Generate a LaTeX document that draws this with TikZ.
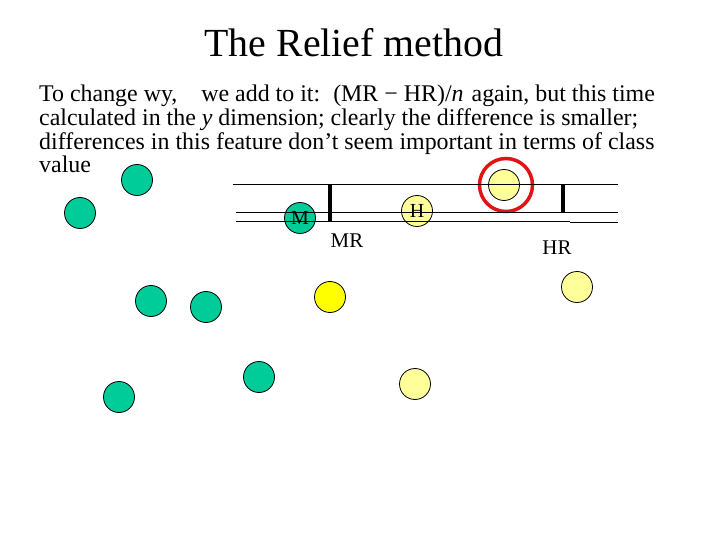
\documentclass[tikz,border=0pt]{standalone}
\usepackage{fontspec}
\setmainfont{Liberation Serif}
\definecolor{ballgreen}{RGB}{0,204,153}
\definecolor{ballyellow}{RGB}{255,255,0}
\definecolor{balllight}{RGB}{255,255,153}
\definecolor{ringred}{RGB}{225,20,20}
\tikzset{
  ball/.style={circle, draw=black, line width=0.8bp, minimum size=31bp, inner sep=0pt, font=\fontsize{20}{20}\selectfont},
  gball/.style={ball, fill=ballgreen},
  yball/.style={ball, fill=ballyellow},
  lball/.style={ball, fill=balllight},
  axisline/.style={line width=1bp},
  bar/.style={line width=3.5bp},
  lbl/.style={font=\fontsize{21}{21}\selectfont, inner sep=0pt}
}
\begin{document}
\begin{tikzpicture}[x=1bp,y=-1bp]
\useasboundingbox (0,0) rectangle (720,540);
% title
\node[anchor=base, inner sep=0pt, font=\fontsize{40}{40}\selectfont] (title) at (354,57) {The Relief method};
% body text
\node[anchor=base west, inner sep=0pt, align=left, font=\fontsize{24}{24}\selectfont] (body) at (39,173)
 {To change wy,\hspace{24bp}we add to it:\hspace{13bp}(MR − HR)/\textit{n}\hspace{8bp}again, but this time\\
  calculated in the \textit{y} dimension; clearly the difference is smaller;\\
  differences in this feature don’t seem important in terms of class\\
  value};
% balls
\node[gball] (g1) at (137,180) {};
\node[gball] (g2) at (80,213) {};
\node[gball] (g3) at (151,301) {};
\node[gball] (g4) at (206,307) {};
\node[gball] (g5) at (119,397) {};
\node[gball] (g6) at (259,377) {};
\node[gball] (m) at (300,218) {M};
\node[lball] (h) at (417,211) {H};
\node[lball] (top) at (504,185) {};
\node[yball] (y1) at (330,297) {};
\node[lball] (y2) at (415,384) {};
\node[lball] (y3) at (577,287) {};
% red ring
\draw[ringred, line width=3.5bp] (top.center) ++(2,0) circle[radius=26.5];
% lines
\coordinate (t1) at (233,185); \coordinate (t2) at (618,185);
\coordinate (m1) at (236,213); \coordinate (m2) at (618,213);
\coordinate (b1) at (236,222); \coordinate (b2) at (570,222);
\coordinate (b3) at (570,222.5); \coordinate (b4) at (618,222.5);
\draw[axisline] (t1) -- (t2);
\draw[axisline] (m1) -- (m2);
\draw[axisline] (b1) -- (b2);
\draw[axisline] (b3) -- (b4);
% bars
\coordinate (mr1) at (330,184); \coordinate (mr2) at (330,222);
\coordinate (hr1) at (563,185); \coordinate (hr2) at (563,212);
\draw[bar] (mr1) -- (mr2);
\draw[bar] (hr1) -- (hr2);
% labels
\node[lbl] (mrl) at (347,241) {MR};
\node[lbl] (hrl) at (557,248) {HR};
\end{tikzpicture}
\end{document}
